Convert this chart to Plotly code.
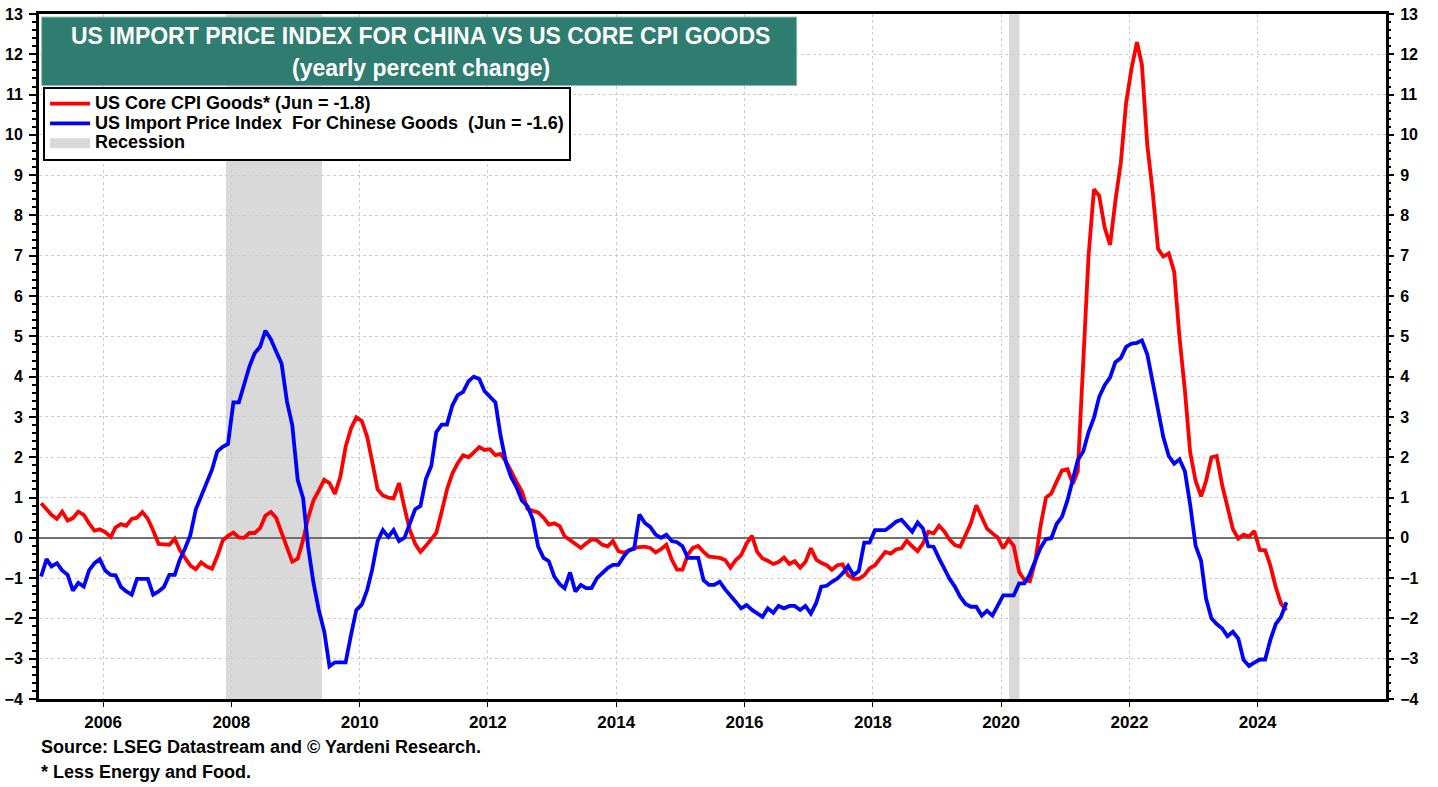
import pandas as pd
import plotly.graph_objects as go

# ---------------- data (monthly, Jan 2005 .. Jun 2024) ----------------
start_month = "2005-01-01"

core_cpi_goods = [
    # 2005
    0.86, 0.72, 0.57, 0.47, 0.65, 0.43, 0.49, 0.65, 0.57, 0.36, 0.18, 0.21,
    # 2006
    0.14, 0.02, 0.26, 0.34, 0.30, 0.47, 0.50, 0.64, 0.47, 0.18, -0.15, -0.16,
    # 2007
    -0.17, -0.02, -0.30, -0.50, -0.69, -0.78, -0.61, -0.71, -0.77, -0.46, -0.07, 0.05,
    # 2008
    0.13, 0.01, 0.00, 0.12, 0.12, 0.24, 0.55, 0.64, 0.49, 0.13, -0.23, -0.59,
    # 2009
    -0.52, -0.05, 0.49, 0.93, 1.17, 1.44, 1.36, 1.09, 1.52, 2.26, 2.72, 2.99,
    # 2010
    2.90, 2.50, 1.90, 1.20, 1.05, 1.00, 0.98, 1.36, 0.75, 0.20, -0.15, -0.35,
    # 2011
    -0.20, -0.05, 0.12, 0.65, 1.20, 1.60, 1.85, 2.05, 2.00, 2.12, 2.25, 2.18,
    # 2012
    2.20, 2.05, 2.08, 1.90, 1.62, 1.38, 1.15, 0.72, 0.67, 0.63, 0.50, 0.33,
    # 2013
    0.36, 0.29, 0.04, -0.06, -0.17, -0.25, -0.14, -0.04, -0.06, -0.17, -0.21, -0.08,
    # 2014
    -0.33, -0.37, -0.32, -0.25, -0.23, -0.22, -0.25, -0.36, -0.28, -0.17, -0.54, -0.79,
    # 2015
    -0.79, -0.42, -0.25, -0.20, -0.35, -0.47, -0.48, -0.50, -0.55, -0.74, -0.55, -0.43,
    # 2016
    -0.14, 0.05, -0.35, -0.51, -0.57, -0.65, -0.60, -0.49, -0.65, -0.58, -0.74, -0.60,
    # 2017
    -0.26, -0.54, -0.62, -0.68, -0.79, -0.68, -0.66, -0.93, -1.02, -1.02, -0.93, -0.76,
    # 2018
    -0.68, -0.51, -0.35, -0.39, -0.29, -0.26, -0.07, -0.21, -0.33, -0.14, 0.15, 0.11,
    # 2019
    0.30, 0.15, -0.04, -0.18, -0.22, 0.07, 0.36, 0.81, 0.54, 0.23, 0.11, 0.01,
    # 2020
    -0.26, -0.04, -0.20, -0.85, -1.05, -1.08, -0.60, 0.30, 1.00, 1.10, 1.40, 1.67,
    # 2021
    1.70, 1.34, 1.65, 4.31, 6.98, 8.65, 8.49, 7.70, 7.27, 8.36, 9.31, 10.79,
    # 2022
    11.65, 12.30, 11.74, 9.74, 8.60, 7.17, 6.98, 7.06, 6.60, 4.98, 3.65, 2.12,
    # 2023
    1.41, 1.03, 1.41, 2.00, 2.03, 1.31, 0.79, 0.22, -0.02, 0.08, 0.03, 0.17,
    # 2024
    -0.30, -0.31, -0.68, -1.22, -1.63, -1.80,
]

import_price_china = [
    # 2005
    -0.96, -0.53, -0.71, -0.63, -0.81, -0.92, -1.31, -1.12, -1.21, -0.81, -0.63, -0.53,
    # 2006
    -0.81, -0.92, -0.93, -1.22, -1.33, -1.41, -1.02, -1.02, -1.02, -1.41, -1.33, -1.22,
    # 2007
    -0.92, -0.92, -0.55, -0.26, 0.07, 0.71, 1.02, 1.31, 1.69, 2.14, 2.26, 2.33,
    # 2008
    3.36, 3.36, 3.83, 4.25, 4.58, 4.74, 5.14, 4.93, 4.62, 4.33, 3.38, 2.80,
    # 2009
    1.44, 0.98, -0.21, -1.12, -1.79, -2.32, -3.19, -3.09, -3.09, -3.09, -2.40, -1.79,
    # 2010
    -1.66, -1.29, -0.79, -0.08, 0.19, 0.02, 0.19, -0.08, 0.00, 0.37, 0.71, 0.79,
    # 2011
    1.46, 1.79, 2.62, 2.81, 2.81, 3.29, 3.54, 3.62, 3.89, 4.00, 3.94, 3.64,
    # 2012
    3.50, 3.36, 2.54, 1.87, 1.50, 1.25, 0.92, 0.79, 0.46, -0.21, -0.50, -0.58,
    # 2013
    -0.96, -1.15, -1.25, -0.86, -1.33, -1.17, -1.25, -1.25, -1.00, -0.87, -0.75, -0.67,
    # 2014
    -0.67, -0.46, -0.31, -0.27, 0.58, 0.37, 0.27, 0.08, 0.00, 0.08, -0.08, -0.11,
    # 2015
    -0.21, -0.50, -0.50, -0.50, -1.05, -1.17, -1.17, -1.09, -1.28, -1.42, -1.59, -1.75,
    # 2016
    -1.67, -1.79, -1.86, -1.96, -1.75, -1.86, -1.69, -1.75, -1.69, -1.69, -1.79, -1.69,
    # 2017
    -1.88, -1.61, -1.21, -1.19, -1.09, -1.01, -0.88, -0.70, -0.93, -0.82, -0.12, -0.12,
    # 2018
    0.19, 0.19, 0.19, 0.29, 0.40, 0.45, 0.29, 0.15, 0.38, 0.23, -0.21, -0.22,
    # 2019
    -0.51, -0.76, -1.01, -1.21, -1.46, -1.64, -1.71, -1.71, -1.93, -1.81, -1.93, -1.68,
    # 2020
    -1.43, -1.43, -1.43, -1.13, -1.13, -0.90, -0.55, -0.25, -0.03, -0.01, 0.35, 0.52,
    # 2021
    0.93, 1.46, 1.93, 2.14, 2.62, 2.98, 3.50, 3.79, 3.98, 4.36, 4.46, 4.74,
    # 2022
    4.82, 4.84, 4.90, 4.55, 3.89, 3.22, 2.50, 2.03, 1.84, 1.95, 1.65, 0.82,
    # 2023
    -0.20, -0.57, -1.50, -2.00, -2.14, -2.25, -2.44, -2.33, -2.50, -3.03, -3.18, -3.10,
    # 2024
    -3.02, -3.02, -2.54, -2.14, -1.96, -1.60,
]

recession_starts = ["2007-12-01", "2020-02-15"]
recession_ends = ["2009-06-01", "2020-04-15"]

series_names = [
    "US Core CPI Goods* (Jun = -1.8)",
    "US Import Price Index  For Chinese Goods  (Jun = -1.6)",
    "Recession",
]
title_lines = ["US IMPORT PRICE INDEX FOR CHINA VS US CORE CPI GOODS",
               "(yearly percent change)"]
footnotes = ["Source: LSEG Datastream and \u00a9 Yardeni Research.",
             "* Less Energy and Food."]
x_tick_years = [2006, 2008, 2010, 2012, 2014, 2016, 2018, 2020, 2022, 2024]
y_range = [-4, 13]
x_range = ["2005-01-01", "2026-01-01"]

# ---------------- figure ----------------
dates = pd.date_range(start_month, periods=len(core_cpi_goods), freq="MS") + pd.Timedelta(days=12)

FONT = "Arial, 'Liberation Sans', sans-serif"
LEG_TXT = '<span style="font-size:18px">{}</span>'

fig = go.Figure()

fig.add_trace(go.Scatter(
    x=dates, y=core_cpi_goods, mode="lines", name=LEG_TXT.format(series_names[0]),
    line=dict(color="#FF0000", width=3.8), yaxis="y",
))
fig.add_trace(go.Scatter(
    x=dates, y=import_price_china, mode="lines", name=LEG_TXT.format(series_names[1]),
    line=dict(color="#0000FF", width=3.8), yaxis="y",
))
# legend entry for the recession shading (no data of its own)
fig.add_trace(go.Scatter(
    x=[None], y=[None], mode="lines", name=LEG_TXT.format(series_names[2]),
    line=dict(color="#D9D9D9", width=14), hoverinfo="skip",
))
# invisible companion trace so the right-hand axis is drawn
fig.add_trace(go.Scatter(
    x=dates, y=import_price_china, mode="lines", showlegend=False,
    line=dict(color="rgba(0,0,0,0)", width=0), hoverinfo="skip", yaxis="y2",
))

for s, e in zip(recession_starts, recession_ends):
    fig.add_shape(
        type="rect", xref="x", yref="paper", x0=s, x1=e, y0=0, y1=1,
        fillcolor="#D9D9D9", line=dict(width=0), layer="below",
    )

# Title box
fig.add_shape(type="rect", xref="paper", yref="paper",
              x0=0.002, x1=0.5625, y0=0.8955, y1=0.9955,
              fillcolor="#2E7D70", line=dict(color="#8FB8AF", width=1), layer="above")
fig.add_annotation(xref="paper", yref="paper", x=0.2835, y=0.968, text=title_lines[0],
                   showarrow=False, xanchor="center", yanchor="middle",
                   font=dict(family=FONT, size=23, color="white", weight="bold"))
fig.add_annotation(xref="paper", yref="paper", x=0.2835, y=0.921, text=title_lines[1],
                   showarrow=False, xanchor="center", yanchor="middle",
                   font=dict(family=FONT, size=23, color="white", weight="bold"))

for txt, yy in zip(footnotes, [-0.070, -0.1065]):
    fig.add_annotation(xref="paper", yref="paper", x=0.0, y=yy, text=txt,
                       showarrow=False, xanchor="left", yanchor="middle",
                       font=dict(family=FONT, size=18, color="black", weight="bold"))

tickfont = dict(family=FONT, size=16, color="black", weight="bold")

fig.update_layout(
    width=1438, height=787,
    margin=dict(l=39, r=52, t=14, b=88, autoexpand=False),
    paper_bgcolor="white", plot_bgcolor="white",
    showlegend=True,
    legend=dict(
        x=0.003, y=0.894, xanchor="left", yanchor="top",
        bgcolor="white", bordercolor="black", borderwidth=2,
        font=dict(family=FONT, size=13, color="black", weight="bold"),
        tracegroupgap=0, itemwidth=40,
        entrywidth=495, entrywidthmode="pixels",
    ),
    xaxis=dict(
        type="date", range=x_range,
        tickvals=[f"{y}-01-01" for y in x_tick_years],
        ticktext=[str(y) for y in x_tick_years],
        showgrid=True, gridcolor="#CCCCCC", griddash="dot", gridwidth=1,
        showline=True, linecolor="black", linewidth=3, mirror=True,
        ticks="outside", ticklen=5, tickwidth=1, tickcolor="black",
        ticklabelstandoff=1, automargin=False,
        tickfont=dict(family=FONT, size=17, color="black", weight="bold"),
        zeroline=False,
    ),
    yaxis=dict(
        range=y_range, dtick=1, tick0=0,
        showgrid=True, gridcolor="#CCCCCC", griddash="dot", gridwidth=1,
        zeroline=True, zerolinecolor="#707070", zerolinewidth=1.5,
        showline=True, linecolor="black", linewidth=3, mirror=True,
        ticks="outside", ticklen=7, tickwidth=2, tickcolor="black",
        minor=dict(dtick=0.2, ticks="outside", ticklen=4, tickwidth=1.5,
                   tickcolor="black", showgrid=False),
        ticklabelstandoff=3, automargin=False,
        tickfont=tickfont,
    ),
    yaxis2=dict(
        range=y_range, dtick=1, tick0=0, overlaying="y", side="right",
        showgrid=False, zeroline=False, showline=False,
        ticks="outside", ticklen=7, tickwidth=2, tickcolor="black",
        minor=dict(dtick=0.2, ticks="outside", ticklen=4, tickwidth=1.5,
                   tickcolor="black", showgrid=False),
        ticklabelstandoff=3, automargin=False,
        tickfont=tickfont,
    ),
)

fig.write_html("out.html", config={"displayModeBar": False},
               post_script="document.body.style.margin='0';")
